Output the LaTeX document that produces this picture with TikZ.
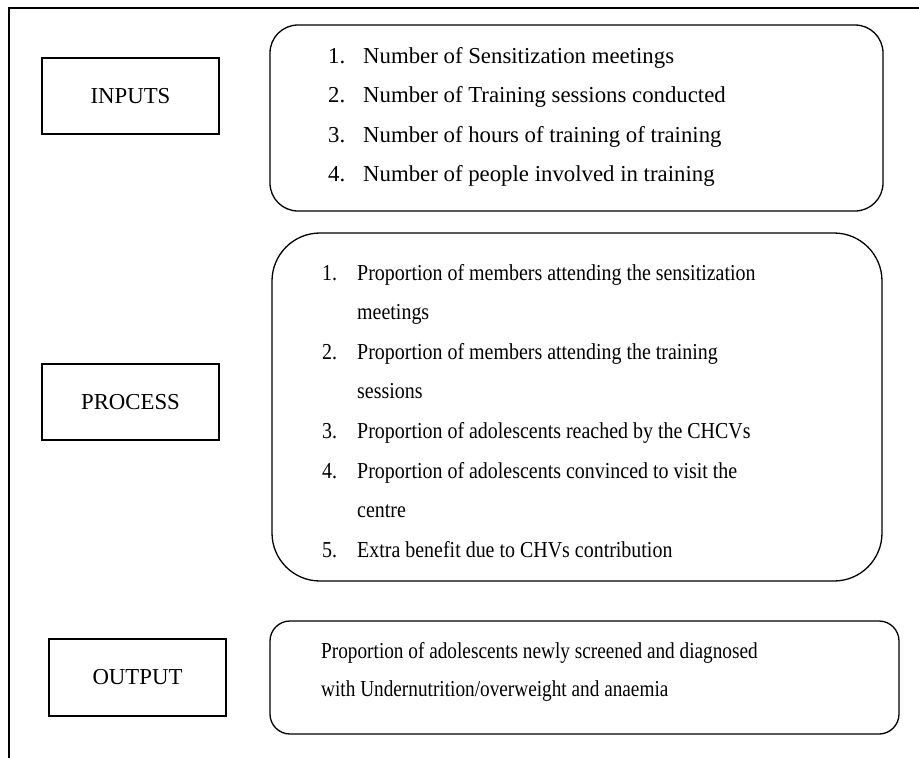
\documentclass[tikz,border=0pt]{standalone}
\usepackage{fontspec}
\setmainfont{Liberation Serif}
\newfontfamily\procfont[FakeStretch=0.875]{Liberation Serif}
\newfontfamily\outfont[FakeStretch=0.845]{Liberation Serif}
\begin{document}
\begin{tikzpicture}[x=1pt,y=-1pt,
  every node/.style={font=\fontsize{22.8}{27}\selectfont},
  labelbox/.style={draw, line width=1.4pt, minimum width=177pt, minimum height=76pt, inner sep=0pt},
  listbox/.style={draw, line width=1.3pt, inner sep=0pt},
  itemtxt/.style={anchor=base west, inner sep=0pt},
  proctxt/.style={anchor=base west, inner sep=0pt, font=\fontsize{22.8}{27}\procfont},
  outtxt/.style={anchor=base west, inner sep=0pt, font=\fontsize{22.8}{27}\outfont},
  frameline/.style={line width=1.2pt}]
\useasboundingbox (0,0) rectangle (919,758);
% frame
\coordinate (ftl) at (9,8);
\coordinate (ftr) at (919,8);
\coordinate (fbl) at (9,758);
\draw[frameline] (ftr) -- (ftl) -- (fbl);
% label boxes
\node[labelbox] (inputs) at (130.5,96) {INPUTS};
\node[labelbox] (process) at (130.5,402) {PROCESS};
\node[labelbox, minimum height=77pt] (output) at (137.5,677.5) {OUTPUT};
% list boxes
\node[listbox, rounded corners=28pt, minimum width=613pt, minimum height=186pt] (inbox) at (576.5,118) {};
\node[listbox, rounded corners=48pt, minimum width=610pt, minimum height=348pt] (procbox) at (577,407) {};
\node[listbox, rounded corners=20pt, minimum width=629pt, minimum height=113pt] (outbox) at (584.5,677.5) {};
% inputs items
\node[itemtxt] (in1n) at (328,63) {1.};
\node[itemtxt] (in1) at (363,63) {Number of Sensitization meetings};
\node[itemtxt] (in2n) at (328,102.6) {2.};
\node[itemtxt] (in2) at (363,102.6) {Number of Training sessions conducted};
\node[itemtxt] (in3n) at (328,142.2) {3.};
\node[itemtxt] (in3) at (363,142.2) {Number of hours of training of training};
\node[itemtxt] (in4n) at (328,181.8) {4.};
\node[itemtxt] (in4) at (363,181.8) {Number of people involved in training};
% process items
\node[proctxt] (p1n) at (322,280) {1.};
\node[proctxt] (p1a) at (357,280) {Proportion of members attending the sensitization};
\node[proctxt] (p1b) at (357,319.6) {meetings};
\node[proctxt] (p2n) at (322,359.2) {2.};
\node[proctxt] (p2a) at (357,359.2) {Proportion of members attending the training};
\node[proctxt] (p2b) at (357,398.8) {sessions};
\node[proctxt] (p3n) at (322,438.4) {3.};
\node[proctxt] (p3) at (357,438.4) {Proportion of adolescents reached by the CHCVs};
\node[proctxt] (p4n) at (322,478) {4.};
\node[proctxt] (p4a) at (357,478) {Proportion of adolescents convinced to visit the};
\node[proctxt] (p4b) at (357,517.6) {centre};
\node[proctxt] (p5n) at (322,557.2) {5.};
\node[proctxt] (p5) at (357,557.2) {Extra benefit due to CHVs contribution};
% output items
\node[outtxt] (o1) at (321,658) {Proportion of adolescents newly screened and diagnosed};
\node[outtxt] (o2) at (321,696) {with Undernutrition/overweight and anaemia};
\end{tikzpicture}
\end{document}
